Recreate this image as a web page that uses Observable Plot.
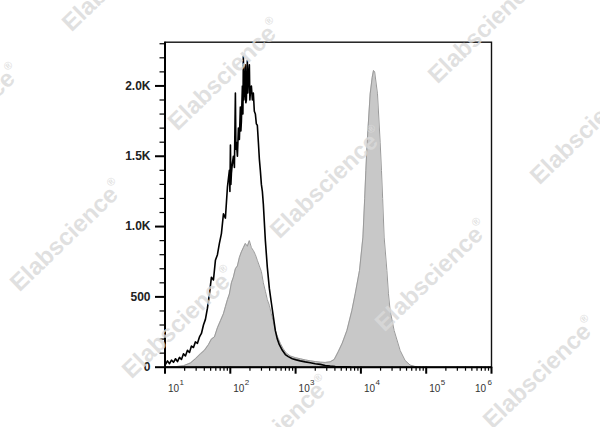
<!DOCTYPE html>
<html>
<head>
<meta charset="utf-8">
<script src="https://cdn.jsdelivr.net/npm/d3@7"></script>
<script src="https://cdn.jsdelivr.net/npm/@observablehq/plot@0.6"></script>
<style>
  html, body { margin: 0; padding: 0; background: #fff; }
  #wrap { position: relative; width: 600px; height: 427px; overflow: hidden; }
  #wrap svg { display: block; }
  #wm { position: absolute; left: 0; top: 0; pointer-events: none; }
</style>
</head>
<body>
<div id="wrap"></div>
<script>
// ---- data (x as log10 of fluorescence intensity, y as event count) ----
const blackLog = [1.008,1.038,1.069,1.099,1.130,1.161,1.191,1.222,1.252,1.283,1.313,1.344,1.375,1.405,1.436,1.466,1.497,1.528,1.558,1.589,1.619,1.650,1.680,1.711,1.742,1.772,1.803,1.833,1.864,1.895,1.925,1.956,1.986,1.994,2.002,2.009,2.017,2.032,2.047,2.063,2.078,2.086,2.093,2.109,2.124,2.139,2.154,2.162,2.170,2.185,2.193,2.200,2.208,2.216,2.231,2.238,2.246,2.261,2.269,2.277,2.292,2.300,2.307,2.323,2.338,2.353,2.368,2.384,2.399,2.414,2.430,2.445,2.460,2.476,2.491,2.506,2.537,2.567,2.598,2.628,2.659,2.690,2.720,2.751,2.797,2.843,2.888,2.950,3.011,3.072,3.148,3.225,3.301,3.378,3.454,3.530,3.607,3.683,3.760,3.836];
const blackCount = [20,45,25,50,35,60,40,70,55,95,80,120,105,150,140,180,170,215,240,300,340,420,520,640,620,760,800,880,950,1090,1060,1280,1400,1250,1580,1300,1380,1450,1500,1420,1950,1550,1600,1500,1700,1620,1850,1680,1750,2000,1800,2210,1900,1950,2150,1880,1900,2180,1950,2050,2150,1900,1950,2000,1900,1950,1820,1800,1730,1720,1600,1480,1400,1300,1250,1160,900,710,560,460,360,260,200,160,120,90,75,60,52,45,38,32,25,20,12,8,5,3,2,1];

const grayLog = [1.008,1.161,1.283,1.390,1.466,1.543,1.604,1.665,1.711,1.757,1.803,1.849,1.895,1.925,1.956,1.986,2.017,2.047,2.078,2.109,2.139,2.170,2.200,2.231,2.261,2.292,2.323,2.353,2.384,2.414,2.445,2.476,2.506,2.537,2.567,2.598,2.628,2.659,2.690,2.720,2.766,2.812,2.858,2.919,2.995,3.072,3.148,3.225,3.301,3.378,3.454,3.530,3.592,3.653,3.714,3.786,3.862,3.913,3.979,4.031,4.058,4.076,4.096,4.142,4.173,4.193,4.211,4.254,4.295,4.315,4.333,4.356,4.398,4.422,4.448,4.509,4.601,4.677,4.754,4.830,4.908];
const grayCount = [2,4,10,30,60,95,120,160,200,215,280,330,380,430,480,520,600,640,700,720,780,820,850,880,860,900,850,830,800,760,720,680,600,540,480,440,380,320,260,220,170,130,100,80,68,60,52,45,40,36,34,38,55,110,170,261,403,522,688,925,1200,1400,1600,1944,2060,2110,2100,1944,1600,1400,1200,925,688,522,403,261,119,48,15,5,0];

const yTicks = [0, 500, 1000, 1500, 2000];
const yTickLabels = ["0", "500", "1.0K", "1.5K", "2.0K"];
const xDecades = [1e1, 1e2, 1e3, 1e4, 1e5, 1e6];
const xExponents = ["1", "2", "3", "4", "5", "6"];
const watermarkText = "Elabscience";

// ---- tables ----
const black = blackLog.map((v, i) => ({x: 10 ** v, y: blackCount[i]}));
const gray = grayLog.map((v, i) => ({x: 10 ** v, y: grayCount[i]}));
const yMinor = d3.range(0, 2301, 100).filter(v => !yTicks.includes(v));
const xMinor = [];
for (let k = 1; k < 6; k++) for (let m = 2; m <= 9; m++) xMinor.push(m * 10 ** k);
const decIdx = xDecades.map((d, i) => i);

const chart = Plot.plot({
  width: 600,
  height: 427,
  marginLeft: 164.5,
  marginRight: 109,
  marginTop: 41.7,
  marginBottom: 60.3,
  style: {background: "#fff", fontFamily: "'Liberation Sans', Arial, sans-serif"},
  x: {type: "log", domain: [10, 1e6], label: null},
  y: {domain: [0, 2311], label: null},
  marks: [
    Plot.areaY(gray, {x: "x", y: "y", fill: "#c8c8c8"}),
    Plot.lineY(gray, {x: "x", y: "y", stroke: "#9a9a9a", strokeWidth: 1}),
    Plot.lineY(black, {x: "x", y: "y", stroke: "#000", strokeWidth: 1.6}),
    Plot.frame({stroke: "#111", strokeWidth: 1.4}),
    Plot.ruleX([10], {stroke: "#000", strokeWidth: 2}),
    Plot.ruleY([0], {stroke: "#000", strokeWidth: 2}),
    Plot.axisY(yTicks, {tickSize: 9.5, tickPadding: 5, strokeWidth: 2, fontSize: 12, fontWeight: "bold", fill: "#222",
      tickFormat: d => yTickLabels[yTicks.indexOf(d)], label: null}),
    Plot.axisY(yMinor, {tickSize: 5, strokeWidth: 1.2, tickFormat: () => "", label: null}),
    Plot.axisX(xDecades, {tickSize: 7, strokeWidth: 2, tickFormat: () => "", label: null}),
    Plot.axisX(xMinor, {tickSize: 4, strokeWidth: 1.2, tickFormat: () => "", label: null}),
    Plot.text(decIdx.slice(0, 5), {x: i => xDecades[i], text: () => "10", frameAnchor: "bottom",
      textAnchor: "start", dx: 3, dy: 24.5, fontSize: 10, fill: "#333"}),
    Plot.text(decIdx.slice(0, 5), {x: i => xDecades[i], text: i => xExponents[i], frameAnchor: "bottom",
      textAnchor: "start", dx: 14.5, dy: 18, fontSize: 8, fill: "#333"}),
    Plot.text([5], {x: i => xDecades[i], text: () => "10", frameAnchor: "bottom",
      textAnchor: "end", dx: -5.5, dy: 24.5, fontSize: 10, fill: "#333"}),
    Plot.text([5], {x: i => xDecades[i], text: i => xExponents[i], frameAnchor: "bottom",
      textAnchor: "end", dx: 0.5, dy: 18, fontSize: 8, fill: "#333"})
  ]
});
document.getElementById("wrap").appendChild(chart);

// ---- watermarks ----
const wmCenters = [[120,-23],[-35,121],[226,76],[486,29],[588,130],[68,237],[328,184],[433,277],[180,324],[275,433],[541,374]];
const ns = "http://www.w3.org/2000/svg";
const wm = document.createElementNS(ns, "svg");
wm.setAttribute("id", "wm");
wm.setAttribute("width", 600);
wm.setAttribute("height", 427);
for (const [cx, cy] of wmCenters) {
  const t = document.createElementNS(ns, "text");
  t.setAttribute("transform", `translate(${cx},${cy}) rotate(-44)`);
  t.setAttribute("text-anchor", "middle");
  t.setAttribute("dominant-baseline", "middle");
  t.setAttribute("font-family", "'Liberation Sans', Arial, sans-serif");
  t.setAttribute("font-weight", "bold");
  t.setAttribute("font-size", "24");
  t.setAttribute("fill", "#dadada");
  t.setAttribute("fill-opacity", "0.82");
  t.appendChild(document.createTextNode(watermarkText));
  const r = document.createElementNS(ns, "tspan");
  r.setAttribute("font-size", "11");
  r.setAttribute("dy", "-9");
  r.textContent = "®";
  t.appendChild(r);
  wm.appendChild(t);
}
document.getElementById("wrap").appendChild(wm);
</script>
</body>
</html>
